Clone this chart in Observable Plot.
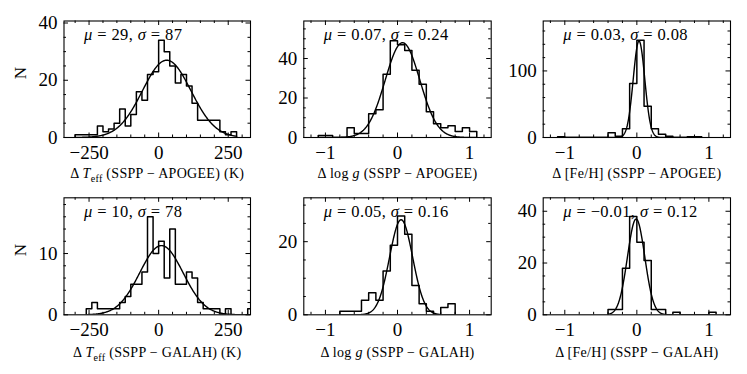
<!DOCTYPE html>
<html><head><meta charset="utf-8">
<script src="https://cdn.jsdelivr.net/npm/d3@7"></script>
<script src="https://cdn.jsdelivr.net/npm/@observablehq/plot@0.6"></script>
<style>
body{margin:0;background:#fff}
#fig{position:relative;width:747px;height:374px;overflow:hidden;background:#fff}
#fig svg{position:absolute;overflow:visible;font-family:'Liberation Serif','DejaVu Serif',serif !important}
#fig svg text, #fig svg tspan{font-family:'Liberation Serif','DejaVu Serif',serif !important}
</style></head><body><div id="fig"></div>
<script>
// ---------- data ----------
const teffApogeeStart = -300, teffApogeeBin = 20;
const teffApogeeCounts = [1,1,1,1,4,2,3,5,10,4,8,16,13,22,23,34,30,25,19,22,18,12,6,6,6,6,2,1,2];
const loggApogeeStart = -1.1, loggApogeeBin = 0.1;
const loggApogeeCounts = [1,1,0,0,5,2,2,12,14,32,49,47,44,34,27,13,7,5,6,3,5,3];
const fehApogeeStart = -1.1, fehApogeeBin = 0.1;
const fehApogeeCounts = [1,0,0,0,0,0,0,7,2,13,81,146,47,13,5,2,0,0,1,1];
const teffGalahStart = -260, teffGalahBin = 20;
const teffGalahCounts = [1,2,1,1,1,1,2,3,5,5,7,16,10,12,6,14,5,5,7,6,2,1,1,1,0,1,0,0,0,1];
const loggGalahStart = -0.8, loggGalahBin = 0.1;
const loggGalahCounts = [1,1,1,4,6,4,12,19,27,22,8,3,1,0,2,3];
const fehGalahStart = -0.4, fehGalahBin = 0.1;
const fehGalahCounts = [2,2,18,38,28,21,2,2,0,1,0,0,0,0,1];

// Gaussian fit parameters (mu, sigma from the labels; peak height)
const fitMu    = [29, 0.07, 0.03, 10, 0.05, -0.01];
const fitSigma = [87, 0.24, 0.08, 78, 0.16, 0.12];
const fitPeak  = [27, 48, 145, 11.3, 26, 37];

// axis domains and ticks
const teffDomain = [-340, 330];
const abDomain = [-1.3, 1.3];
const teffMajor = [-250, 0, 250];
const teffMinor = [-300, -200, -150, -100, -50, 50, 100, 150, 200, 300];
const abMajor = [-1, 0, 1];
const abMinor = [-1.2, -0.8, -0.6, -0.4, -0.2, 0.2, 0.4, 0.6, 0.8, 1.2];
const yMaxes = [40.7, 59, 175, 19.1, 32, 45.2];
const yMajors = [[0,20,40],[0,20,40],[0,100],[0,10],[0,20],[0,20,40]];
const yMinors = [[5,10,15,25,30,35],[5,10,15,25,30,35,45,50,55],[20,40,60,80,120,140,160],[2,4,6,8,12,14,16,18],[5,10,15,25,30],[5,10,15,25,30,35]];

// texts
const annoTexts = [
  [["μ","i"],[" = 29, ",""],["σ","i"],[" = 87",""]],
  [["μ","i"],[" = 0.07, ",""],["σ","i"],[" = 0.24",""]],
  [["μ","i"],[" = 0.03, ",""],["σ","i"],[" = 0.08",""]],
  [["μ","i"],[" = 10, ",""],["σ","i"],[" = 78",""]],
  [["μ","i"],[" = 0.05, ",""],["σ","i"],[" = 0.16",""]],
  [["μ","i"],[" = −0.01, ",""],["σ","i"],[" = 0.12",""]]
];
const xLabels = [
  [["Δ ",""],["T","i"],["eff","s"],[" (SSPP − APOGEE) (K)",""]],
  [["Δ log ",""],["g","i"],[" (SSPP − APOGEE)",""]],
  [["Δ [Fe/H] (SSPP − APOGEE)",""]],
  [["Δ ",""],["T","i"],["eff","s"],[" (SSPP − GALAH) (K)",""]],
  [["Δ log ",""],["g","i"],[" (SSPP − GALAH)",""]],
  [["Δ [Fe/H] (SSPP − GALAH)",""]]
];
const yLabel = "N";

// ---------- layout ----------
const colLeft = [0, 253, 493], colW = [253, 240, 254];
const colML = [63.5, 50.3, 49.7], colMR = [3, 2.3, 17];
const rowTop = [0, 187], rowH = 187;
const rowMT = [20.5, 10.3], rowMB = [50, 59.7];
const FONT = "Liberation Serif";
const FS_TICK = 19, FS_ANNO = 16.5, FS_XLAB = 14, FS_N = 17;

const hists = [
  [teffApogeeStart, teffApogeeBin, teffApogeeCounts],
  [loggApogeeStart, loggApogeeBin, loggApogeeCounts],
  [fehApogeeStart, fehApogeeBin, fehApogeeCounts],
  [teffGalahStart, teffGalahBin, teffGalahCounts],
  [loggGalahStart, loggGalahBin, loggGalahCounts],
  [fehGalahStart, fehGalahBin, fehGalahCounts]
];

const fmt = d => (d < 0 ? "−" + (-d) : String(d));
const plainOf = segs => segs.map(s => s[0]).join("");

function richify(svg, segs, fs, ls) {
  const plain = plainOf(segs);
  d3.select(svg).selectAll("text").filter(function(){ return this.textContent === plain; }).each(function(){
    const t = d3.select(this);
    t.selectAll("*").remove();
    t.text(null);
    t.attr("letter-spacing", ls);
    let shift = 0;
    segs.forEach(([s, k]) => {
      const ts = t.append("tspan").text(s);
      if (k === "i") ts.attr("font-style", "italic");
      if (k === "s") { ts.attr("font-size", fs*0.72).attr("dy", fs*0.28); shift += fs*0.28; }
      else if (shift) { ts.attr("dy", -shift); shift = 0; }
    });
  });
}

const fig = document.getElementById("fig");
for (let idx = 0; idx < 6; idx++) {
  const row = Math.floor(idx/3), col = idx % 3;
  const [start, bin, counts] = hists[idx];
  const W = colW[col], ml = colML[col], mr = colMR[col], mt = rowMT[row], mb = rowMB[row];
  const innerW = W - ml - mr, innerH = rowH - mt - mb;
  const lo = start, hi = start + counts.length*bin;
  const verts = [{x: lo, y: 0}];
  counts.forEach((c, i) => { verts.push({x: start + i*bin, y: c}, {x: start + (i+1)*bin, y: c}); });
  verts.push({x: hi, y: 0});
  const mu = fitMu[idx], sg = fitSigma[idx], A = fitPeak[idx];
  const fit = d3.range(0, 401).map(k => { const x = lo + (hi-lo)*k/400; return {x, y: A*Math.exp(-((x-mu)**2)/(2*sg*sg))}; });
  const isT = col === 0;
  const xMaj = isT ? teffMajor : abMajor, xMin = isT ? teffMinor : abMinor;
  const yMaj = yMajors[idx], yMin = yMinors[idx];
  const MAJ = 4.5, MIN = 2.5;
  const marks = [
    Plot.line(fit, {x: "x", y: "y", stroke: "black", strokeWidth: 1.4, clip: true}),
    Plot.line(verts, {x: "x", y: "y", stroke: "black", strokeWidth: 1.5, clip: true}),
    Plot.frame({stroke: "black", strokeWidth: 1.1}),
    Plot.tickX(xMaj, {x: d => d, insetTop: innerH - MAJ, stroke: "black"}),
    Plot.tickX(xMaj, {x: d => d, insetBottom: innerH - MAJ, stroke: "black"}),
    Plot.tickX(xMin, {x: d => d, insetTop: innerH - MIN, stroke: "black"}),
    Plot.tickX(xMin, {x: d => d, insetBottom: innerH - MIN, stroke: "black"}),
    Plot.tickY(yMaj, {y: d => d, insetRight: innerW - MAJ, stroke: "black"}),
    Plot.tickY(yMaj, {y: d => d, insetLeft: innerW - MAJ, stroke: "black"}),
    Plot.tickY(yMin, {y: d => d, insetRight: innerW - MIN, stroke: "black"}),
    Plot.tickY(yMin, {y: d => d, insetLeft: innerW - MIN, stroke: "black"}),
    Plot.axisX({ticks: xMaj, tickSize: 0, tickPadding: 7.5, fontSize: FS_TICK, tickFormat: fmt, label: null}),
    Plot.axisY({ticks: yMaj, tickSize: 0, tickPadding: 6.5, fontSize: FS_TICK, tickFormat: fmt, label: null}),
    Plot.text([plainOf(annoTexts[idx])], {text: d => d, frameAnchor: "top-left", dx: 20, dy: 14, textAnchor: "start", lineAnchor: "middle", fontSize: FS_ANNO}),
    Plot.text([plainOf(xLabels[idx])], {text: d => d, frameAnchor: "bottom", dy: row === 0 ? 36 : 37.7, lineAnchor: "middle", fontSize: FS_XLAB})
  ];
  if (col === 0) marks.push(Plot.text([yLabel], {text: d => d, frameAnchor: "left", dx: -43.5, rotate: -90, lineAnchor: "middle", fontSize: FS_N}));
  const svg = Plot.plot({
    width: W, height: rowH,
    marginLeft: ml, marginRight: mr, marginTop: mt, marginBottom: mb,
    x: {domain: isT ? teffDomain : abDomain},
    y: {domain: [0, yMaxes[idx]]},
    style: {fontFamily: FONT, background: "transparent", color: "black"},
    marks
  });
  svg.setAttribute("font-family", FONT);
  d3.select(svg).selectAll("g").attr("font-family", null);
  richify(svg, annoTexts[idx], FS_ANNO, 0.4);
  richify(svg, xLabels[idx], FS_XLAB, 0.3);
  svg.style.left = colLeft[col] + "px";
  svg.style.top = rowTop[row] + "px";
  fig.append(svg);
}
</script></body></html>
